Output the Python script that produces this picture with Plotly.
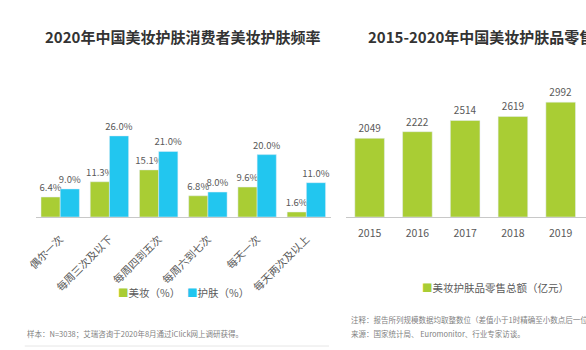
import plotly.graph_objects as go

W, H = 586, 350
FONT = "Noto Sans CJK SC"
GREEN = "#A9CD34"
BLUE = "#22C6EF"
GRAY = "#595959"

# Left chart data
freq_categories = ["偶尔一次", "每周三次及以下", "每周四到五次", "每周六到七次", "每天一次", "每天两次及以上"]
makeup_pct = [6.4, 11.3, 15.1, 6.8, 9.6, 1.6]
skincare_pct = [9.0, 26.0, 21.0, 8.0, 20.0, 11.0]

# Right chart data
years = ["2015", "2016", "2017", "2018", "2019"]
retail_total = [2049, 2222, 2514, 2619, 2992]

def px(x):
    return x / W

def py(y):
    return 1 - y / H

fig = go.Figure()

fig.add_trace(go.Bar(
    x=freq_categories, y=makeup_pct, name="美妆（%）", marker_color=GREEN,
    texttemplate="%{y:.1f}%", textposition="outside", constraintext="none",
    textfont=dict(size=9.5, color=GRAY, family=FONT), cliponaxis=False,
    xaxis="x", yaxis="y", showlegend=False,
))
fig.add_trace(go.Bar(
    x=freq_categories, y=skincare_pct, name="护肤（%）", marker_color=BLUE,
    texttemplate="%{y:.1f}%", textposition="outside", constraintext="none",
    textfont=dict(size=9.5, color=GRAY, family=FONT), cliponaxis=False,
    xaxis="x", yaxis="y", showlegend=False,
))
fig.add_trace(go.Bar(
    x=years, y=retail_total, name="美妆护肤品零售总额（亿元）", marker_color=GREEN,
    text=[str(v) for v in retail_total], textposition="outside", constraintext="none",
    textfont=dict(size=10, color=GRAY, family=FONT), cliponaxis=False, width=0.62,
    xaxis="x2", yaxis="y2", showlegend=False,
))

axis_common = dict(showgrid=False, zeroline=False, showline=True, linecolor="#C8C8C8", linewidth=1,
                   ticks="outside", tickcolor="rgba(0,0,0,0)", fixedrange=True)

fig.update_layout(
    width=W, height=H,
    margin=dict(l=0, r=0, t=0, b=0),
    paper_bgcolor="white", plot_bgcolor="white",
    font=dict(family=FONT, color=GRAY),
    barmode="group", bargap=0.22, bargroupgap=0,
    xaxis=dict(domain=[px(27), px(327)], range=[-0.5, 5.5], tickangle=-45,
               ticklen=11, tickfont=dict(size=10.5, color=GRAY), anchor="y", **axis_common),
    yaxis=dict(domain=[py(217), py(107)], range=[0, 35.26], visible=False, anchor="x"),
    xaxis2=dict(domain=[px(342), 1], range=[-0.5, 4.53], ticklen=6,
                tickfont=dict(size=10.5, color=GRAY), anchor="y2", **axis_common),
    yaxis2=dict(domain=[py(217), py(97)], range=[0, 3126], visible=False, anchor="x2"),
)

ann = []
ann.append(dict(text="<b>2020年中国美妆护肤消费者美妆护肤频率</b>", x=px(176), y=py(36),
                xanchor="center", yanchor="middle", font=dict(size=15, color="#333333")))
ann.append(dict(text="<b>2015-2020年中国美妆护肤品零售总额</b>", x=px(363), y=py(36),
                xanchor="left", yanchor="middle", font=dict(size=15, color="#333333")))
ann.append(dict(text=f"<span style='color:{GREEN}'>■</span>美妆（%）", x=px(109), y=py(292),
                xanchor="left", yanchor="middle", font=dict(size=10.5, color=GRAY)))
ann.append(dict(text=f"<span style='color:{BLUE}'>■</span>护肤（%）", x=px(179), y=py(292),
                xanchor="left", yanchor="middle", font=dict(size=10.5, color=GRAY)))
ann.append(dict(text=f"<span style='color:{GREEN}'>■</span>美妆护肤品零售总额（亿元）", x=px(417), y=py(287),
                xanchor="left", yanchor="middle", font=dict(size=10.5, color=GRAY)))
ann.append(dict(text="样本：N=3038；艾瑞咨询于2020年8月通过iClick网上调研获得。", x=px(16), y=py(333),
                xanchor="left", yanchor="middle", font=dict(size=7.5, color="#7F7F7F")))
ann.append(dict(text="注释：报告所列规模数据均取整数位（差值小于1时精确至小数点后一位）。", x=px(345), y=py(319),
                xanchor="left", yanchor="middle", font=dict(size=7.5, color="#7F7F7F")))
ann.append(dict(text="来源：国家统计局、 Euromonitor、行业专家访谈。", x=px(345), y=py(333),
                xanchor="left", yanchor="middle", font=dict(size=7.5, color="#7F7F7F")))
for a in ann:
    a.update(xref="paper", yref="paper", showarrow=False)
fig.update_layout(annotations=ann)

fig.update_layout(shapes=[
    dict(type="line", xref="paper", yref="paper", x0=px(16), x1=px(325), y0=py(346), y1=py(346),
         line=dict(color="#E6E6E6", width=1)),
])

fig.write_html("out.html", config={"displayModeBar": False})
